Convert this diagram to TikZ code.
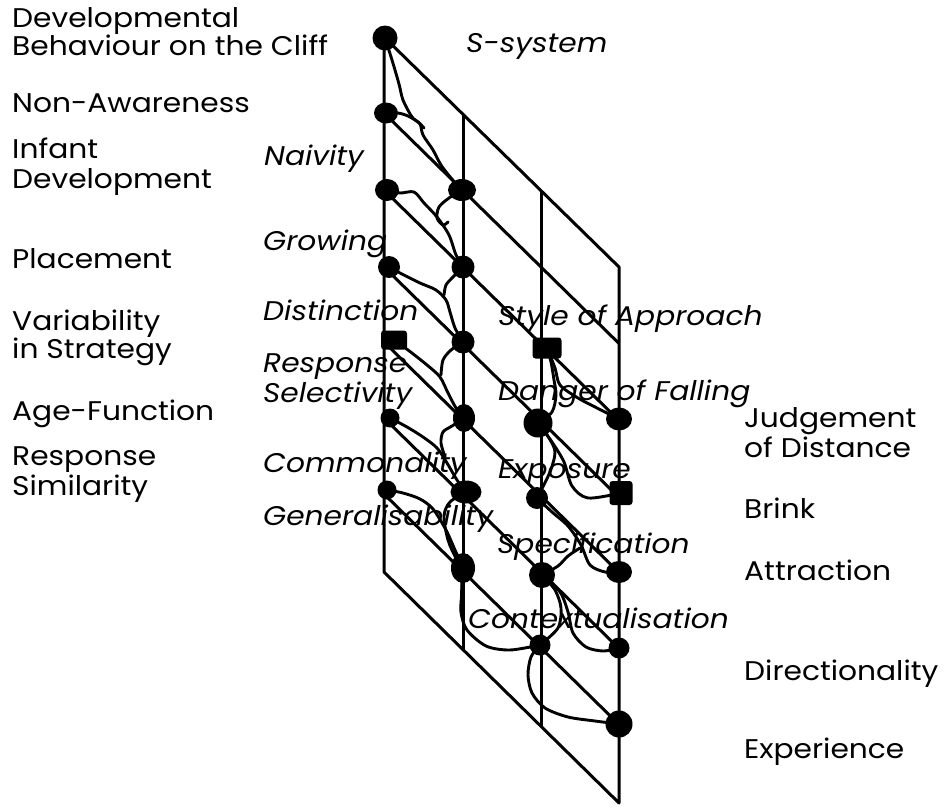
\documentclass[tikz,border=0pt]{standalone}
\usepackage{fontspec}
\setmainfont{Poppins}[FakeStretch=1.1]
\usetikzlibrary{shapes.geometric}
\begin{document}
\begin{tikzpicture}[x=1pt,y=-1pt,
  grid/.style={line width=3pt, line join=round},
  wig/.style={line width=2.9pt, line cap=round, line join=round},
  blob/.style={circle, fill=black, inner sep=0pt, minimum size=#1},
  oval/.style 2 args={ellipse, fill=black, inner sep=0pt, minimum width=#1, minimum height=#2},
  sqr/.style 2 args={rectangle, rounded corners=3pt, fill=black, inner sep=0pt, minimum width=#1, minimum height=#2},
  lab/.style={anchor=base west, inner sep=0pt, font=\fontsize{27}{29}\selectfont},
  ilab/.style={anchor=base west, inner sep=0pt, font=\fontsize{27}{29}\selectfont\itshape},
]
\useasboundingbox (0,0) rectangle (945,806);
% grid
\coordinate (TL) at (384,37);
\coordinate (TR) at (619,267);
\coordinate (BR) at (619,803);
\coordinate (BL) at (384,572);
\draw[grid] (TL) -- (TR) -- (BR) -- (BL) -- cycle;
\coordinate (v2t) at (463,114.5); \coordinate (v2b) at (463,650);
\coordinate (v3t) at (541,191); \coordinate (v3b) at (541,726);
\draw[grid] (v2t) -- (v2b);
\draw[grid] (v3t) -- (v3b);
\foreach \yy [count=\i] in {113,190,267,342,418,494} {
  \coordinate (rl\i) at (384,\yy);
  \coordinate (rr\i) at (619,\yy+230.5);
  \draw[grid] (rl\i) -- (rr\i);
}
% dots
\node[blob=25] (d0) at (385,38) {};
\node[oval={24}{21}] (l1) at (386,113) {};
\node[oval={24}{22}] (l2) at (387,190) {};
\node[blob=22] (l3) at (389,267) {};
\node[sqr={26}{19}] (l4) at (394,340) {};
\node[blob=19] (l5) at (390,418) {};
\node[blob=19] (l6) at (387,490) {};
\node[oval={28}{22}] (c21) at (462,190) {};
\node[blob=23] (c22) at (463,267) {};
\node[blob=23] (c23) at (463,342) {};
\node[oval={22}{28}] (c24) at (464,418) {};
\node[oval={31}{23}] (c25) at (466,492) {};
\node[oval={24}{30}] (c26) at (463,568) {};
\node[sqr={29}{21}] (c32) at (547,348) {};
\node[blob=29] (c33) at (538,423) {};
\node[blob=22] (c34) at (537,498) {};
\node[blob=26] (c35) at (542,575) {};
\node[blob=21] (c36) at (540,645) {};
\node[oval={26}{23}] (c42) at (619,419) {};
\node[sqr={23}{24}] (c43) at (621,493) {};
\node[oval={26}{22}] (c44) at (619,572) {};
\node[blob=21] (c45) at (619,648) {};
\node[blob=27] (c46) at (619,724) {};
% wiggly paths, left system
\draw[wig] plot[smooth,tension=0.5] coordinates {(d0.center) (392,60) (399,84) (403,100) (412,117) (420,124) (423,135) (433,150) (441,165) (451,178) (c21.center)};
\draw[wig] plot[smooth,tension=0.5] coordinates {(l1.center) (398,113) (408,116) (418,122) (424,128)};
\draw[wig] plot[smooth,tension=0.5] coordinates {(l2.center) (400,193) (414,192) (424,203) (437,217) (449,235) (456,255) (c22.center)};
\draw[wig] plot[smooth,tension=0.5] coordinates {(c21.center) (449,198) (439,207) (437,218) (443,225) (448,222)};
\draw[wig] plot[smooth,tension=0.5] coordinates {(l3.center) (400,273) (420,283) (436,290) (446,300) (450,312) (455,328) (c23.center)};
\draw[wig] plot[smooth,tension=0.5] coordinates {(c22.center) (453,277) (446,285) (444,295)};
\draw[wig] plot[smooth,tension=0.5] coordinates {(l4.center) (408,350) (427,365) (440,377) (448,393) (456,408) (c24.center)};
\draw[wig] plot[smooth,tension=0.5] coordinates {(c23.center) (451,350) (443,360) (441,375)};
\draw[wig] plot[smooth,tension=0.5] coordinates {(l5.center) (407,427) (423,437) (437,448) (447,463) (457,480) (c25.center)};
\draw[wig] plot[smooth,tension=0.5] coordinates {(c24.center) (452,426) (443,432) (441,443) (445,457)};
\draw[wig] plot[smooth,tension=0.5] coordinates {(l6.center) (403,493) (420,499) (433,509) (446,530) (455,550) (c26.center)};
\draw[wig] plot[smooth,tension=0.5] coordinates {(c25.center) (450,502) (444,516) (448,540) (456,558) (c26.center)};
\draw[wig,line width=4.5pt] (c26.center) -- (462,612);
\draw[wig] plot[smooth,tension=0.5] coordinates {(c26.center) (462,590) (461,612) (467,630) (486,646) (510,650) (c36.center)};
% right system
\draw[wig] plot[smooth,tension=0.5] coordinates {(c32.center) (551,362) (554,380) (556,395) (552,412) (c33.center)};
\draw[wig] plot[smooth,tension=0.5] coordinates {(c32.center) (555,368) (560,385) (578,398) (597,408) (c42.center)};
\draw[wig] plot[smooth,tension=0.5] coordinates {(c33.center) (549,438) (555,452) (550,472) (c34.center)};
\draw[wig] plot[smooth,tension=0.5] coordinates {(c33.center) (552,442) (564,462) (572,486) (588,498) (c43.center)};
\draw[wig] plot[smooth,tension=0.5] coordinates {(c34.center) (552,512) (568,526) (581,545) (590,565) (605,572) (c44.center)};
\draw[wig] plot[smooth,tension=0.5] coordinates {(c35.center) (558,566) (568,556) (580,548)};
\draw[wig] plot[smooth,tension=0.5] coordinates {(c35.center) (560,592) (568,612) (573,633) (586,647) (603,651) (c45.center)};
\draw[wig] plot[smooth,tension=0.5] coordinates {(c35.center) (555,590) (561,608) (558,628) (c36.center)};
\draw[wig] plot[smooth,tension=0.5] coordinates {(c36.center) (531,657) (528,675) (532,693) (545,708) (568,717) (595,721) (c46.center)};
% left labels
\node[lab] (t1a) at (12,27) {Developmental};
\node[lab] (t1b) at (12,55) {Behaviour on the Cliff};
\node[lab] (t2) at (12,112) {Non-Awareness};
\node[lab] (t3a) at (12,158) {Infant};
\node[lab] (t3b) at (12,188) {Development};
\node[lab] (t4) at (12,268) {Placement};
\node[lab] (t5a) at (12,330) {Variability};
\node[lab] (t5b) at (12,358) {in Strategy};
\node[lab] (t6) at (12,420) {Age-Function};
\node[lab] (t7a) at (12,465) {Response};
\node[lab] (t7b) at (12,495) {Similarity};
% italic labels
\node[ilab] (s0) at (466,52) {S-system};
\node[ilab] (s1) at (264,165) {Naivity};
\node[ilab] (s2) at (263,250) {Growing};
\node[ilab] (s3) at (263,320) {Distinction};
\node[ilab] (s4a) at (263,372) {Response};
\node[ilab] (s4b) at (263,402) {Selectivity};
\node[ilab] (s5) at (263,472) {Commonality};
\node[ilab] (s6) at (263,525) {Generalisability};
\node[ilab] (s7) at (498,325) {Style of Approach};
\node[ilab] (s8) at (498,400) {Danger of Falling};
\node[ilab] (s9) at (498,478) {Exposure};
\node[ilab] (s10) at (497,553) {Specification};
\node[ilab] (s11) at (468,628) {Contextualisation};
% right labels
\node[lab] (r1a) at (744,427) {Judgement};
\node[lab] (r1b) at (744,457) {of Distance};
\node[lab] (r2) at (744,518) {Brink};
\node[lab] (r3) at (744,580) {Attraction};
\node[lab] (r4) at (744,680) {Directionality};
\node[lab] (r5) at (744,758) {Experience};
\end{tikzpicture}
\end{document}
